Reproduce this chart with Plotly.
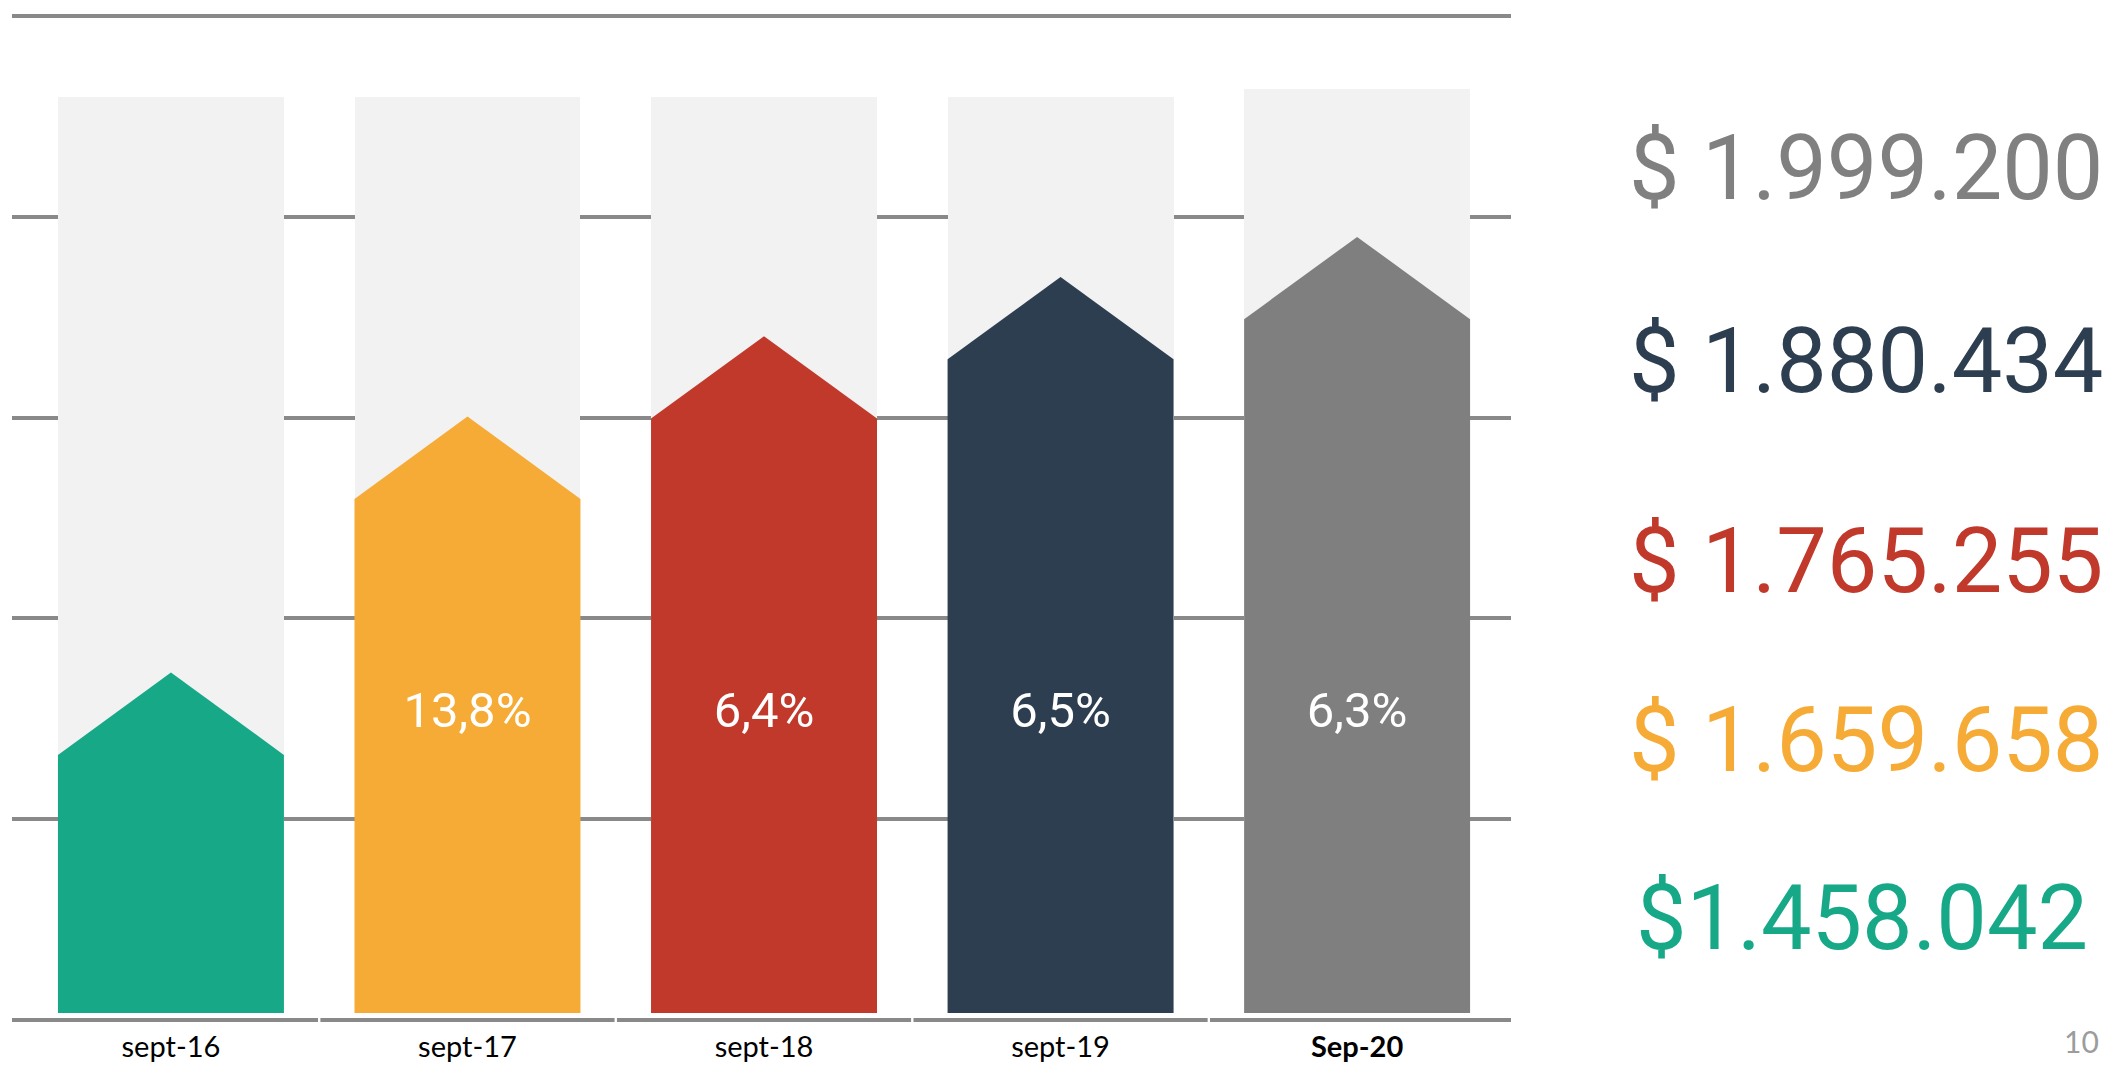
import plotly.graph_objects as go

# ---------------- data ----------------
categories = ["sept-16", "sept-17", "sept-18", "sept-19", "Sep-20"]
tick_labels = ["sept-16", "sept-17", "sept-18", "sept-19", "<b>Sep-20</b>"]
arrow_levels = [26.4, 51.9, 59.9, 65.8, 69.8]        # shoulder height of each arrow bar (chart units)
background_levels = [91.9, 91.9, 91.9, 91.9, 92.7]   # height of grey backdrop column
growth_labels = ["", "13,8%", "6,4%", "6,5%", "6,3%"]
amount_labels = ["$1.458.042", "$ 1.659.658", "$ 1.765.255", "$ 1.880.434", "$ 1.999.200"]
page_number = "10"

# ---------------- styles ----------------
colors = ["#17A987", "#F5AB35", "#C0392B", "#2C3E50", "#7F7F7F"]
label_colors = ["#17A987", "#F5AB35", "#C0392B", "#2C3E50", "#808080"]
backdrop_color = "#F2F2F2"
grid_color = "#898989"
bar_base = 0.7
arrow_tip = 8.2
bar_width = 0.762
growth_label_y = 30.4
amount_label_y = [10.1, 27.8, 45.7, 65.6, 84.8]   # vertical placement of the right-hand amounts
amount_label_x = [1.3865, 1.3965, 1.3965, 1.3965, 1.3965]
x_range = [-0.536, 4.519]

idx = list(range(len(categories)))
half = bar_width / 2

fig = go.Figure()

# backdrop columns
fig.add_trace(go.Bar(
    x=idx, y=[b - bar_base for b in background_levels], base=bar_base,
    width=bar_width, marker=dict(color=backdrop_color, line=dict(width=0)),
    hoverinfo="skip", showlegend=False))

# arrow-shaped bars
for i, lvl in enumerate(arrow_levels):
    c = idx[i]
    fig.add_trace(go.Scatter(
        x=[c - half, c - half, c, c + half, c + half, c - half],
        y=[bar_base, lvl, lvl + arrow_tip, lvl, bar_base, bar_base],
        mode="lines", fill="toself", fillcolor=colors[i],
        line=dict(width=0, color=colors[i]),
        hoverinfo="skip", showlegend=False))

# growth labels
fig.add_trace(go.Scatter(
    x=[i for i in idx if growth_labels[i]],
    y=[growth_label_y for i in idx if growth_labels[i]],
    text=[g for g in growth_labels if g],
    mode="text", textposition="middle center",
    textfont=dict(family="Roboto", size=49, color="white"),
    hoverinfo="skip", showlegend=False))

# segmented bottom axis line
gap = 0.004
for i in idx:
    x0 = x_range[0] if i == 0 else i - 0.5 + gap
    x1 = x_range[1] if i == idx[-1] else i + 0.5 - gap
    fig.add_shape(type="line", xref="x", yref="y", x0=x0, x1=x1, y0=0, y1=0,
                  line=dict(color=grid_color, width=4), layer="below")

# right-hand amounts
for i, txt in enumerate(amount_labels):
    fig.add_annotation(
        text=txt, xref="paper", yref="y", x=amount_label_x[i], y=amount_label_y[i],
        xanchor="right", yanchor="middle", showarrow=False,
        font=dict(family="Roboto", size=90, color=label_colors[i]))

# page number
fig.add_annotation(
    text=page_number, xref="paper", yref="paper", x=1.3935, y=-0.0158,
    xanchor="right", yanchor="middle", showarrow=False,
    font=dict(family="Lato", size=30, color="#9C9C9C"))

fig.update_layout(
    width=2111, height=1067, autosize=False,
    margin=dict(l=12, r=600, t=11, b=42, pad=0, autoexpand=False),
    paper_bgcolor="white", plot_bgcolor="white",
    showlegend=False, bargap=0,
    xaxis=dict(range=x_range, tickvals=idx, ticktext=tick_labels,
               showgrid=False, zeroline=False, showline=False, ticks="",
               ticklabelstandoff=2, automargin=False,
               tickfont=dict(family="Lato", size=29, color="black"),
               fixedrange=True),
    yaxis=dict(range=[-0.5, 100.5], tickvals=[20, 40, 60, 80, 100],
               showticklabels=False, showgrid=True, gridcolor=grid_color,
               gridwidth=4, zeroline=False, showline=False, ticks="",
               automargin=False, fixedrange=True),
)

fig.write_html("out.html", config={"displayModeBar": False},
               post_script="document.body.style.margin='0px';document.body.style.overflow='hidden';")
